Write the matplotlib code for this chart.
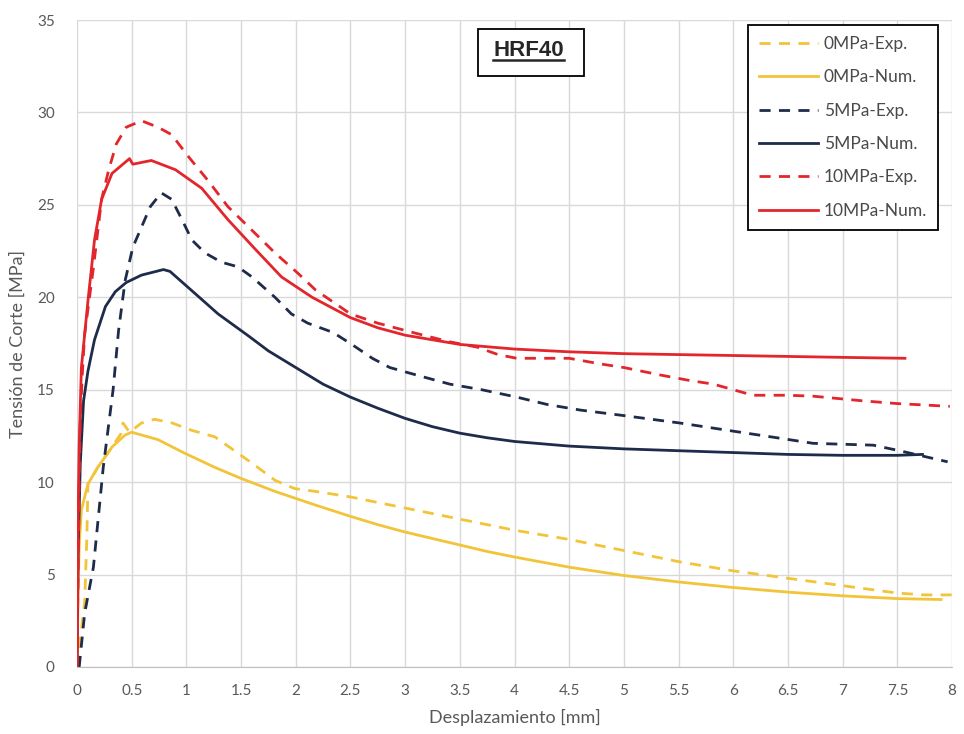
import matplotlib
matplotlib.use("Agg")
import matplotlib.pyplot as plt
from matplotlib.lines import Line2D
from matplotlib.patches import Rectangle

plt.rcParams['font.family'] = ['Lato', 'DejaVu Sans']

# ---------------- data ----------------
x_0exp = [0, 0.04, 0.07, 0.09, 0.1, 0.19, 0.32, 0.4, 0.42, 0.48, 0.59, 0.71, 0.87, 1.05, 1.26,
          1.44, 1.63, 1.81, 1.99, 2.18, 2.5, 3.0, 3.5, 4.0, 4.5, 5.0, 5.5, 6.0, 6.5, 7.0, 7.5,
          7.75, 8.0]
y_0exp = [0, 2.0, 3.5, 7.0, 9.9, 10.8, 11.9, 12.6, 13.2, 12.7, 13.2, 13.4, 13.2, 12.8, 12.45,
          11.7, 10.9, 10.1, 9.65, 9.5, 9.2, 8.6, 8.0, 7.4, 6.9, 6.3, 5.7, 5.2, 4.8, 4.4, 4.0,
          3.9, 3.9]

x_0num = [0, 0.01, 0.02, 0.04, 0.1, 0.19, 0.32, 0.44, 0.5, 0.74, 0.99, 1.26, 1.5, 1.81, 2.18,
          2.5, 2.75, 3.0, 3.25, 3.5, 3.75, 4.0, 4.5, 5.0, 5.5, 6.0, 6.5, 7.0, 7.5, 7.9]
y_0num = [0, 4.0, 6.5, 8.5, 9.9, 10.8, 11.9, 12.55, 12.7, 12.3, 11.55, 10.8, 10.2, 9.5, 8.76,
          8.15, 7.7, 7.3, 6.95, 6.6, 6.25, 5.95, 5.4, 4.95, 4.6, 4.3, 4.05, 3.85, 3.7, 3.65]

x_5exp = [0.02, 0.07, 0.15, 0.24, 0.33, 0.38, 0.44, 0.51, 0.59, 0.67, 0.77, 0.865, 0.96, 1.05,
          1.17, 1.32, 1.47, 1.6, 1.81, 1.96, 2.11, 2.34, 2.5, 2.7, 2.86, 3.1, 3.41, 3.7, 4.02,
          4.3, 4.6, 5.0, 5.51, 6.12, 6.4, 6.73, 7.28, 7.52, 7.96]
y_5exp = [0, 2.9, 5.4, 10.8, 15.0, 18.2, 20.9, 22.7, 23.8, 24.9, 25.65, 25.3, 24.2, 23.1,
          22.4, 21.9, 21.65, 21.1, 20.0, 19.1, 18.6, 18.1, 17.5, 16.7, 16.2, 15.8, 15.3, 15.0, 14.6,
          14.2, 13.9, 13.6, 13.2, 12.65, 12.4, 12.1, 12.0, 11.7, 11.1]

x_5num = [0, 0.01, 0.03, 0.06, 0.1, 0.16, 0.26, 0.35, 0.45, 0.59, 0.79, 0.85, 1.08, 1.29, 1.57,
          1.75, 2.0, 2.25, 2.5, 2.75, 3.0, 3.25, 3.5, 3.75, 4.0, 4.5, 5.0, 5.5, 6.0, 6.5, 7.0,
          7.5, 7.73]
y_5num = [0, 6.0, 11.0, 14.4, 16.0, 17.7, 19.5, 20.3, 20.8, 21.2, 21.5, 21.4, 20.2, 19.1, 17.9,
          17.1, 16.2, 15.3, 14.6, 14.0, 13.45, 13.0, 12.65, 12.4, 12.2, 11.95, 11.8, 11.7, 11.6,
          11.5, 11.45, 11.45, 11.5]

x_10exp = [0, 0.01, 0.02, 0.03, 0.05, 0.07, 0.15, 0.225, 0.29, 0.36, 0.45, 0.59, 0.74, 0.865,
           1.02, 1.2, 1.38, 1.63, 1.81, 2.02, 2.18, 2.5, 2.75, 3.1, 3.4, 3.66, 3.85, 4.02, 4.5,
           4.78, 5.0, 5.33, 5.6, 5.82, 6.0, 6.18, 6.5, 6.73, 7.18, 7.5, 7.98]
y_10exp = [0, 5.0, 10.0, 13.5, 16.0, 18.0, 21.6, 25.3, 26.9, 28.3, 29.2, 29.55, 29.2, 28.8,
           27.6, 26.3, 24.9, 23.45, 22.4, 21.3, 20.4, 19.1, 18.6, 18.05, 17.6, 17.3, 16.9, 16.7,
           16.7, 16.4, 16.2, 15.8, 15.5, 15.3, 15.0, 14.7, 14.7, 14.65, 14.4, 14.25, 14.1]

x_10num = [0, 0.01, 0.02, 0.04, 0.1, 0.16, 0.225, 0.32, 0.41, 0.48, 0.51, 0.68, 0.9, 1.14,
           1.38, 1.63, 1.87, 2.15, 2.5, 2.75, 3.0, 3.25, 3.5, 4.0, 4.5, 5.0, 5.5, 6.0, 6.5, 7.0,
           7.57]
y_10num = [0, 8.0, 12.0, 16.2, 19.8, 23.1, 25.3, 26.7, 27.15, 27.5, 27.2, 27.4, 26.9, 25.9,
           24.2, 22.6, 21.1, 20.0, 18.9, 18.35, 17.95, 17.7, 17.45, 17.2, 17.05, 16.95, 16.9,
           16.85, 16.8, 16.75, 16.7]

labels = ['0MPa-Exp.', '0MPa-Num.', '5MPa-Exp.', '5MPa-Num.', '10MPa-Exp.', '10MPa-Num.']
x_ticks = [0, 0.5, 1, 1.5, 2, 2.5, 3, 3.5, 4, 4.5, 5, 5.5, 6, 6.5, 7, 7.5, 8]
x_ticklabels = ['0', '0.5', '1', '1.5', '2', '2.5', '3', '3.5', '4', '4.5', '5', '5.5',
                '6', '6.5', '7', '7.5', '8']
y_ticks = [0, 5, 10, 15, 20, 25, 30, 35]
title_text = 'HRF40'
xlabel = 'Desplazamiento [mm]'
ylabel = 'Tensión de Corte [MPa]'

# ---------------- styles ----------------
YEL = '#F2C43A'
NAV = '#1E2B4A'
RED = '#E2262B'
DASH = (4, 3)
LW = 2.0

fig = plt.figure(figsize=(9.64, 7.34), dpi=100)
ax = fig.add_axes([77 / 964, 1 - 667 / 734, 875 / 964, 647 / 734])

series = [
    (x_0exp, y_0exp, YEL, True),
    (x_0num, y_0num, YEL, False),
    (x_5exp, y_5exp, NAV, True),
    (x_5num, y_5num, NAV, False),
    (x_10exp, y_10exp, RED, True),
    (x_10num, y_10num, RED, False),
]
for (xs, ys, c, dashed), lab in zip(series, labels):
    if dashed:
        ax.plot(xs, ys, color=c, lw=LW, dashes=DASH, label=lab, dash_capstyle='butt',
                solid_joinstyle='round', dash_joinstyle='round')
    else:
        ax.plot(xs, ys, color=c, lw=LW, label=lab, solid_joinstyle='round')

ax.set_xlim(0, 8)
ax.set_ylim(0, 35)
ax.set_xticks(x_ticks)
ax.set_xticklabels(x_ticklabels)
ax.set_yticks(y_ticks)
ax.grid(True, color='#D9D9D9', lw=1)
ax.set_axisbelow(True)
for s in ['top', 'right', 'left']:
    ax.spines[s].set_visible(False)
ax.spines['bottom'].set_color('#BFBFBF')
ax.tick_params(length=0, labelsize=11, labelcolor='#595959')
ax.tick_params(axis='y', pad=16)
ax.tick_params(axis='x', pad=12)

ax.set_xlabel(xlabel, fontsize=13, color='#595959', labelpad=8)
ax.set_ylabel(ylabel, fontsize=13, color='#595959', labelpad=8)

leg = ax.legend(loc='upper right', bbox_to_anchor=(0.984, 0.992), fontsize=12.5,
                frameon=True, fancybox=False, framealpha=1, edgecolor='black',
                handlelength=3.4, handletextpad=0.35, labelspacing=1.0,
                borderpad=0.62, borderaxespad=0)
leg.get_frame().set_linewidth(1.3)
for t in leg.get_texts():
    t.set_color('#4A4A4A')

# title box
ax.add_patch(Rectangle((0.458, 0.913), 0.121, 0.073, transform=ax.transAxes,
                       fill=True, fc='white', ec='black', lw=1.3, zorder=5))
tt = ax.text(0.516, 0.944, title_text, transform=ax.transAxes, ha='center', va='baseline',
             fontsize=16, fontweight='bold', color='#262626', zorder=6,
             family=['Liberation Sans', 'DejaVu Sans'])

fig.canvas.draw()
bb = tt.get_window_extent()
inv = fig.transFigure.inverted()
(x0, y0), (x1, _) = inv.transform([(bb.x0, bb.y0 + 1.5), (bb.x1, bb.y0)])
fig.add_artist(Line2D([x0, x1], [y0, y0], transform=fig.transFigure, color='#262626',
                      lw=1.8, zorder=7))

fig.savefig('out.png', dpi=100)
